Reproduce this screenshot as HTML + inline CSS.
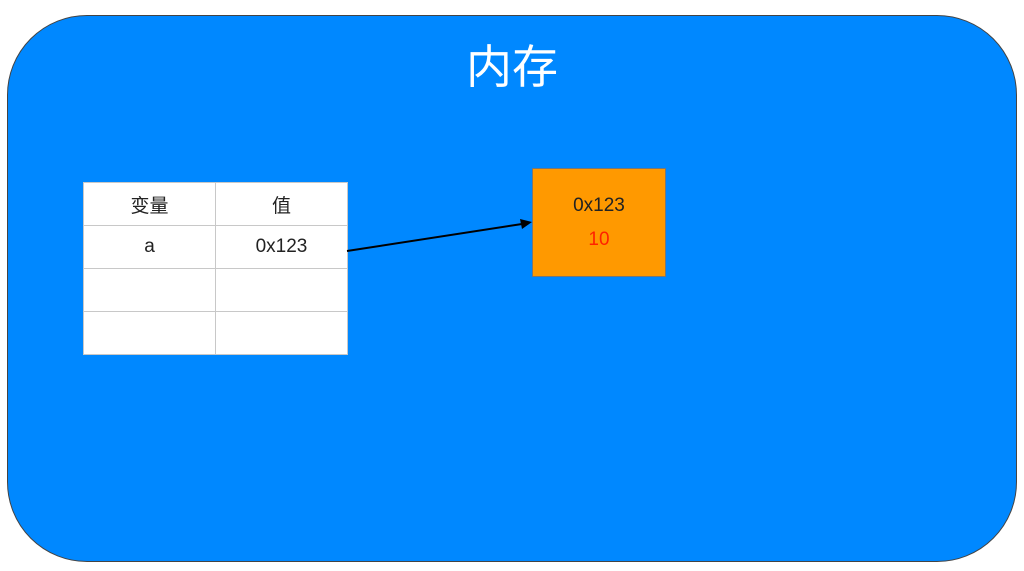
<!DOCTYPE html>
<html><head><meta charset="utf-8"><style>
body{margin:0;width:1024px;height:571px;background:#fff;position:relative;overflow:hidden;font-family:"Liberation Sans","Noto Sans CJK SC",sans-serif}
.bg{position:absolute;left:7px;top:15px;width:1010px;height:547px;background:#0088ff;border:1px solid #444;border-radius:80px;box-sizing:border-box}
.t{position:absolute;left:0;width:1024px;top:39px;text-align:center;color:#fff;font-size:46px;line-height:56px}
table{position:absolute;left:83px;top:182px;border-collapse:collapse;background:#fff}
td{border:1.5px solid #c8c8c8;height:42px;padding:0;text-align:center;font-size:19px;color:#222}
.b{position:absolute;left:532px;top:168px;width:134px;height:109px;background:#ff9900;border:1px solid #777;box-sizing:border-box;text-align:center;font-size:19px;color:#222}
</style></head><body>
<div class="bg"></div>
<div class="t">内存</div>
<table><tr><td style="width:131px">变量</td><td style="width:131px">值</td></tr>
<tr><td>a</td><td>0x123</td></tr><tr><td></td><td></td></tr><tr><td></td><td></td></tr></table>
<div class="b"><div style="margin-top:26px">0x123</div><div style="color:#ff2200;margin-top:12px">10</div></div>
<svg width="1024" height="571" style="position:absolute;left:0;top:0">
<line x1="347" y1="251" x2="522" y2="224" stroke="#000" stroke-width="2"/>
<polygon points="532,222 520,219 522,229" fill="#000"/>
</svg>
</body></html>
